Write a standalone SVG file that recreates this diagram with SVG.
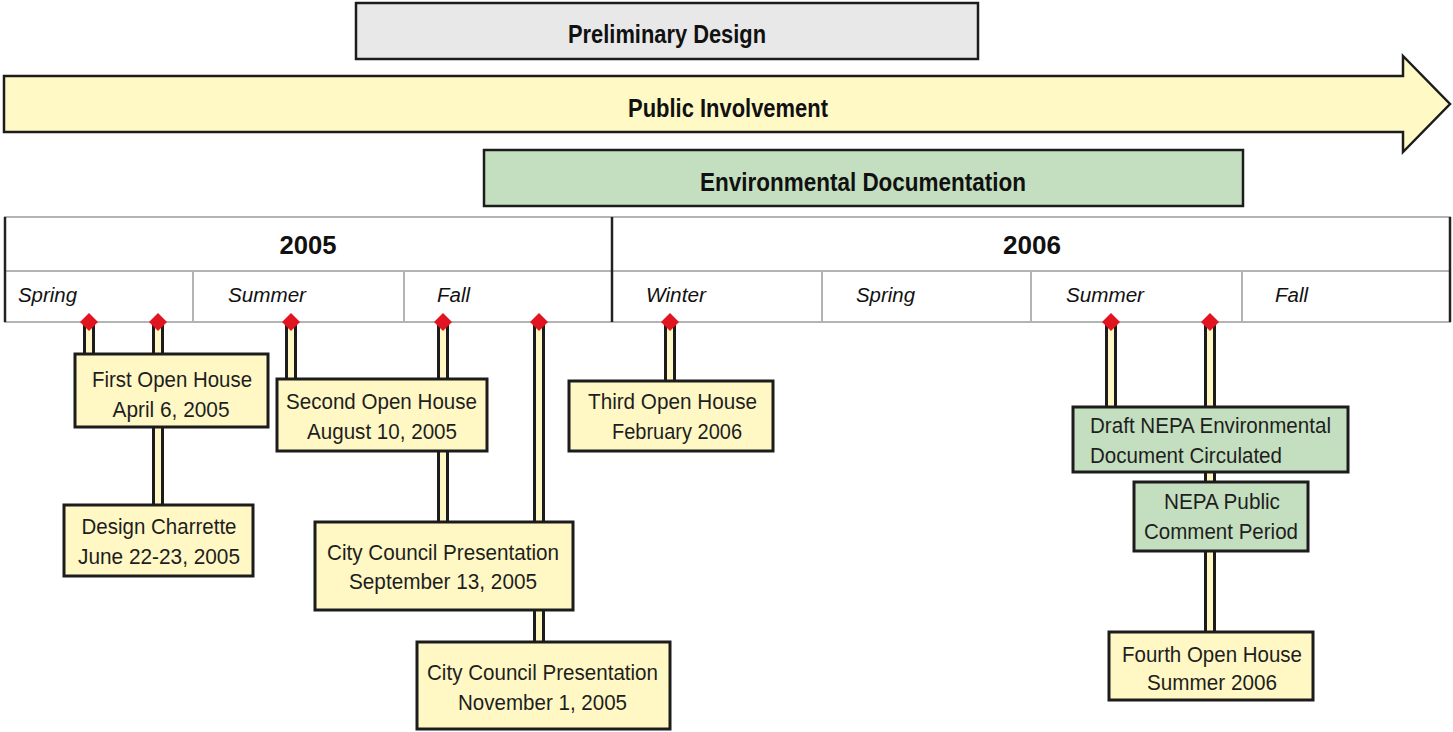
<svg xmlns="http://www.w3.org/2000/svg" width="1453" height="732" viewBox="0 0 1453 732">
<style>
.bar{stroke:#1c1c1c;stroke-width:2.5}
.title{font-family:"Liberation Sans",Arial,sans-serif;font-weight:bold;font-size:25px;fill:#111;text-anchor:middle}
.year{font-family:"Liberation Sans",Arial,sans-serif;font-weight:bold;font-size:26px;fill:#111;text-anchor:middle}
.season{font-family:"Liberation Sans",Arial,sans-serif;font-style:italic;font-size:20px;fill:#111}
.grid{stroke:#b4b4b4;stroke-width:2;fill:none}
.dark{stroke:#222;stroke-width:2.5;fill:none}
.box{stroke:#1c1c1c;stroke-width:3}
.y{fill:#fff8c4}
.g{fill:#c4dfbf}
.t{font-family:"Liberation Sans",Arial,sans-serif;font-size:22px;fill:#1e1e1e;text-anchor:middle}
.stem{fill:#fff8c4;stroke:#1c1c1c;stroke-width:3}
.pin{fill:#e01520}
</style>

<g id="preliminary-design">
<rect class="bar" x="356" y="3" width="622" height="56" fill="#e8e8e8"/>
<text class="title" x="667" y="43" textLength="198" lengthAdjust="spacingAndGlyphs">Preliminary Design</text>
</g>

<g id="public-involvement">
<polygon class="bar" fill="#fff9c6" points="4,76 1403,76 1403,56 1450,104 1403,152 1403,132 4,132"/>
<text class="title" x="728" y="117" textLength="200" lengthAdjust="spacingAndGlyphs">Public Involvement</text>
</g>

<g id="environmental-documentation">
<rect class="bar" x="484" y="150" width="759" height="56" fill="#c4dfbf"/>
<text class="title" x="863" y="191" textLength="326" lengthAdjust="spacingAndGlyphs">Environmental Documentation</text>
</g>

<g id="timeline">
<line class="grid" x1="4" y1="217" x2="1451" y2="217"/>
<line class="grid" x1="4" y1="271" x2="1451" y2="271"/>
<line class="grid" x1="4" y1="322" x2="1451" y2="322"/>
<line class="grid" x1="193" y1="271" x2="193" y2="322"/>
<line class="grid" x1="404" y1="271" x2="404" y2="322"/>
<line class="grid" x1="822" y1="271" x2="822" y2="322"/>
<line class="grid" x1="1031" y1="271" x2="1031" y2="322"/>
<line class="grid" x1="1242" y1="271" x2="1242" y2="322"/>
<line class="dark" x1="5" y1="217" x2="5" y2="322"/>
<line class="dark" x1="612" y1="217" x2="612" y2="322"/>
<line class="dark" x1="1450" y1="217" x2="1450" y2="322"/>
<text class="year" x="308" y="254" textLength="57" lengthAdjust="spacingAndGlyphs">2005</text>
<text class="year" x="1032" y="254" textLength="58" lengthAdjust="spacingAndGlyphs">2006</text>
<text class="season" x="18" y="302" textLength="59" lengthAdjust="spacingAndGlyphs">Spring</text>
<text class="season" x="228" y="302" textLength="78" lengthAdjust="spacingAndGlyphs">Summer</text>
<text class="season" x="437" y="302" textLength="33" lengthAdjust="spacingAndGlyphs">Fall</text>
<text class="season" x="646" y="302" textLength="60" lengthAdjust="spacingAndGlyphs">Winter</text>
<text class="season" x="856" y="302" textLength="59" lengthAdjust="spacingAndGlyphs">Spring</text>
<text class="season" x="1066" y="302" textLength="78" lengthAdjust="spacingAndGlyphs">Summer</text>
<text class="season" x="1275" y="302" textLength="33" lengthAdjust="spacingAndGlyphs">Fall</text>
</g>

<g id="connectors">
<rect class="stem" x="84.5" y="324" width="9" height="31"/>
<rect class="stem" x="153.5" y="324" width="9" height="182"/>
<rect class="stem" x="286.5" y="324" width="9" height="56"/>
<rect class="stem" x="438.5" y="324" width="9" height="199"/>
<rect class="stem" x="534.5" y="324" width="9" height="319"/>
<rect class="stem" x="665.5" y="324" width="9" height="58"/>
<rect class="stem" x="1106.5" y="324" width="9" height="84"/>
<rect class="stem" x="1205.5" y="324" width="9" height="310"/>
<polygon class="pin" points="89,313 98,322 89,331 80,322"/>
<polygon class="pin" points="158,313 167,322 158,331 149,322"/>
<polygon class="pin" points="291,313 300,322 291,331 282,322"/>
<polygon class="pin" points="443,313 452,322 443,331 434,322"/>
<polygon class="pin" points="539,313 548,322 539,331 530,322"/>
<polygon class="pin" points="670,313 679,322 670,331 661,322"/>
<polygon class="pin" points="1111,313 1120,322 1111,331 1102,322"/>
<polygon class="pin" points="1210,313 1219,322 1210,331 1201,322"/>
</g>

<g id="first-open-house">
<rect class="box y" x="75" y="354" width="193" height="73"/>
<text class="t" x="172" y="387" textLength="160" lengthAdjust="spacingAndGlyphs">First Open House</text>
<text class="t" x="171" y="417" textLength="117" lengthAdjust="spacingAndGlyphs">April 6, 2005</text>
</g>

<g id="design-charrette">
<rect class="box y" x="64" y="505" width="189" height="71"/>
<text class="t" x="159" y="534" textLength="155" lengthAdjust="spacingAndGlyphs">Design Charrette</text>
<text class="t" x="159" y="564" textLength="162" lengthAdjust="spacingAndGlyphs">June 22-23, 2005</text>
</g>

<g id="second-open-house">
<rect class="box y" x="277" y="379" width="210" height="72"/>
<text class="t" x="381.5" y="409" textLength="191" lengthAdjust="spacingAndGlyphs">Second Open House</text>
<text class="t" x="382" y="439" textLength="150" lengthAdjust="spacingAndGlyphs">August 10, 2005</text>
</g>

<g id="city-council-sep">
<rect class="box y" x="315" y="522" width="258" height="88"/>
<text class="t" x="443" y="560" textLength="232" lengthAdjust="spacingAndGlyphs">City Council Presentation</text>
<text class="t" x="443" y="589" textLength="188" lengthAdjust="spacingAndGlyphs">September 13, 2005</text>
</g>

<g id="city-council-nov">
<rect class="box y" x="417" y="642" width="253" height="87"/>
<text class="t" x="542.5" y="680" textLength="231" lengthAdjust="spacingAndGlyphs">City Council Presentation</text>
<text class="t" x="542.5" y="710" textLength="169" lengthAdjust="spacingAndGlyphs">November 1, 2005</text>
</g>

<g id="third-open-house">
<rect class="box y" x="569" y="381" width="204" height="70"/>
<text class="t" x="672.5" y="409" textLength="169" lengthAdjust="spacingAndGlyphs">Third Open House</text>
<text class="t" x="677" y="439" textLength="130" lengthAdjust="spacingAndGlyphs">February 2006</text>
</g>

<g id="draft-nepa">
<rect class="box g" x="1073" y="407" width="275" height="65"/>
<text class="t" x="1210.5" y="433" textLength="241" lengthAdjust="spacingAndGlyphs">Draft NEPA Environmental</text>
<text class="t" x="1090" y="463" textLength="192" lengthAdjust="spacingAndGlyphs" style="text-anchor:start">Document Circulated</text>
</g>

<g id="nepa-comment">
<rect class="box g" x="1134" y="482" width="174" height="69"/>
<text class="t" x="1222" y="509" textLength="116" lengthAdjust="spacingAndGlyphs">NEPA Public</text>
<text class="t" x="1221" y="539" textLength="154" lengthAdjust="spacingAndGlyphs">Comment Period</text>
</g>

<g id="fourth-open-house">
<rect class="box y" x="1109" y="632" width="204" height="68"/>
<text class="t" x="1212" y="662" textLength="180" lengthAdjust="spacingAndGlyphs">Fourth Open House</text>
<text class="t" x="1212" y="690" textLength="130" lengthAdjust="spacingAndGlyphs">Summer 2006</text>
</g>
</svg>
